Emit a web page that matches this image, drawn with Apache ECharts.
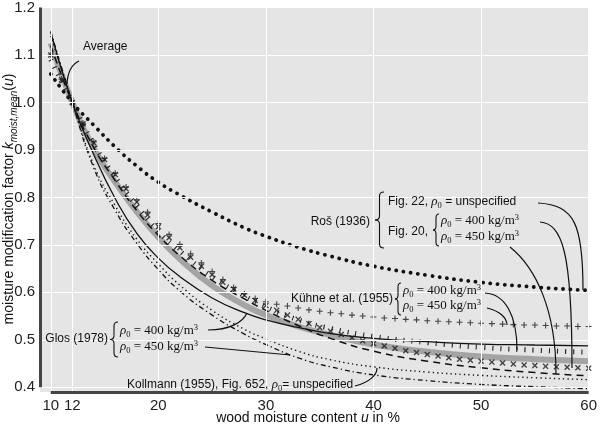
<!DOCTYPE html>
<html><head><meta charset="utf-8">
<script src="https://cdn.jsdelivr.net/npm/echarts@6/dist/echarts.min.js"></script>
<style>html,body{margin:0;padding:0;background:#fff}#c{width:600px;height:428px}</style>
</head><body><div id="c"></div>
<script>
// ---------- data ----------
const X_TICKS = [10, 12, 20, 30, 40, 50, 60];
const Y_TICKS = [0.4, 0.5, 0.6, 0.7, 0.8, 0.9, 1.0, 1.1, 1.2];

const X_SPARSE = [10, 12, 14, 16, 18, 20, 22, 25, 28, 30, 33, 36, 40, 45, 50, 55, 60];
const average   = [1.125, 1.0, 0.903, 0.832, 0.770, 0.716, 0.670, 0.614, 0.573, 0.552, 0.528, 0.510, 0.490, 0.475, 0.465, 0.459, 0.455];
const rosUnspec = [1.06, 1.0, 0.952, 0.906, 0.866, 0.832, 0.805, 0.769, 0.736, 0.718, 0.695, 0.676, 0.655, 0.636, 0.621, 0.611, 0.604];
const ros450    = [1.12, 1.0, 0.905, 0.835, 0.772, 0.720, 0.677, 0.625, 0.586, 0.562, 0.530, 0.503, 0.476, 0.455, 0.441, 0.431, 0.424];
const glos400   = [1.148, 1.0, 0.890, 0.797, 0.724, 0.672, 0.633, 0.588, 0.557, 0.542, 0.526, 0.513, 0.503, 0.496, 0.491, 0.489, 0.487];
const glos450   = [1.15, 1.0, 0.862, 0.772, 0.703, 0.648, 0.603, 0.552, 0.512, 0.490, 0.462, 0.443, 0.426, 0.414, 0.406, 0.401, 0.397];
const kollmann  = [1.14, 1.0, 0.868, 0.782, 0.712, 0.660, 0.615, 0.562, 0.522, 0.502, 0.476, 0.458, 0.443, 0.432, 0.425, 0.420, 0.416];
const kuehne400 = [1.09, 1.0, 0.912, 0.842, 0.782, 0.728, 0.687, 0.633, 0.592, 0.569, 0.542, 0.524, 0.507, 0.494, 0.484, 0.478, 0.474];

const X_DENSE = [10,11,12,13,14,15,16,17,18,19,20,21,22,23,24,25,26,27,28,29,30,31,32,33,34,35,36,37,38,39,40,41,42,43,44,45,46,47,48,49,50,51,52,53,54,55,56,57,58,59,60];
const ros400 = [1.100,1.048,1.000,0.955,0.915,0.880,0.848,0.818,0.790,0.763,0.738,0.715,0.694,0.674,0.655,0.637,0.621,0.607,0.594,0.583,0.572,0.562,0.552,0.543,0.534,0.526,0.518,0.511,0.504,0.498,0.492,0.487,0.482,0.477,0.473,0.469,0.466,0.462,0.459,0.457,0.455,0.453,0.451,0.449,0.447,0.446,0.444,0.443,0.442,0.441,0.440];
const kuehne450 = [1.100,1.049,1.000,0.956,0.917,0.882,0.851,0.822,0.795,0.769,0.745,0.722,0.701,0.681,0.662,0.644,0.627,0.610,0.597,0.587,0.580,0.575,0.571,0.567,0.563,0.560,0.557,0.555,0.552,0.550,0.548,0.546,0.545,0.543,0.542,0.540,0.539,0.538,0.537,0.536,0.535,0.534,0.533,0.532,0.531,0.531,0.530,0.529,0.529,0.528,0.528];

// ---------- helpers ----------
const pairs = (xs, ys) => xs.map((x, i) => [x, ys[i]]);
const SANS = 'Liberation Sans';
const SERIF = 'Liberation Serif';
const INK = '#111';

const rich = {
  t:  { fontFamily: SANS, fontSize: 12, color: INK, lineHeight: 16 },
  ri: { fontFamily: SERIF, fontStyle: 'italic', fontSize: 13, color: INK, lineHeight: 16 },
  sb: { fontFamily: SERIF, fontSize: 8.5, color: INK, lineHeight: 16, verticalAlign: 'bottom' },
  mt: { fontFamily: SERIF, fontSize: 13, color: INK, lineHeight: 16 },
  sp: { fontFamily: SERIF, fontSize: 8.5, color: INK, lineHeight: 16, verticalAlign: 'top' },
  n:  { fontFamily: SANS, fontSize: 14, color: INK, lineHeight: 20 },
  ni: { fontFamily: SANS, fontStyle: 'italic', fontSize: 14, color: INK, lineHeight: 20 },
  nsub: { fontFamily: SANS, fontStyle: 'italic', fontSize: 10, color: INK, lineHeight: 20, verticalAlign: 'bottom' }
};
const rho = v => '{ri|ρ}{sb|0}{mt| = ' + v + ' kg/m}{sp|3}';

function txt(x, y, text, align, rot) {
  return { type: 'text', x: x, y: y, rotation: rot || 0, z: 100, silent: true,
    style: { text: text, rich: rich, align: align || 'left', verticalAlign: 'middle', fill: INK, font: '12px ' + SANS } };
}
const stroke = (w) => ({ fill: null, stroke: INK, lineWidth: w || 1.2 });
function cubic(x1, y1, c1x, c1y, c2x, c2y, x2, y2, w) {
  return { type: 'bezierCurve', z: 100, silent: true,
    shape: { x1: x1, y1: y1, cpx1: c1x, cpy1: c1y, cpx2: c2x, cpy2: c2y, x2: x2, y2: y2 }, style: stroke(w) };
}
function quad(x1, y1, cx, cy, x2, y2, w) {
  return { type: 'bezierCurve', z: 100, silent: true,
    shape: { x1: x1, y1: y1, cpx1: cx, cpy1: cy, x2: x2, y2: y2 }, style: stroke(w) };
}
function seg(x1, y1, x2, y2, w) {
  return { type: 'line', z: 100, silent: true, shape: { x1: x1, y1: y1, x2: x2, y2: y2 }, style: stroke(w) };
}
function brace(x0, x1, y1, y2) {
  const xm = (x0 + x1) / 2, ym = (y1 + y2) / 2, r = Math.min(4, (y2 - y1) / 6), w = 1.1;
  return [
    quad(x1, y1, xm, y1, xm, y1 + r, w),
    seg(xm, y1 + r, xm, ym - r, w),
    quad(xm, ym - r, xm, ym, x0, ym, w),
    quad(x0, ym, xm, ym, xm, ym + r, w),
    seg(xm, ym + r, xm, y2 - r, w),
    quad(xm, y2 - r, xm, y2, x1, y2, w)
  ];
}

const XPATH = 'path://M0,1.6L1.6,0L5,3.4L8.4,0L10,1.6L6.6,5L10,8.4L8.4,10L5,6.6L1.6,10L0,8.4L3.4,5Z';
const PPATH = 'path://M4.1,0H5.9V4.1H10V5.9H5.9V10H4.1V5.9H0V4.1H4.1Z';

const lineBase = { type: 'line', smooth: 0.5, symbol: 'none', silent: true, animation: false };

const chart = echarts.init(document.getElementById('c'), null, { renderer: 'canvas' });
chart.setOption({
  animation: false,
  grid: { left: 40, right: 7, top: 7, bottom: 36, show: true, backgroundColor: '#e5e5e5', borderWidth: 0 },
  xAxis: {
    type: 'value', min: 9, max: 60,
    axisLine: { show: false }, axisTick: { show: false }, splitLine: { show: false },
    axisLabel: { customValues: X_TICKS, fontFamily: SANS, fontSize: 15, color: '#222', margin: 6 }
  },
  yAxis: {
    type: 'value', min: 0.39, max: 1.2,
    axisLine: { show: false }, axisTick: { show: false }, splitLine: { show: false },
    axisLabel: { customValues: Y_TICKS, formatter: v => v.toFixed(1), fontFamily: SANS, fontSize: 15, color: '#222', margin: 5 }
  },
  series: [
    { type: 'line', data: [[9, 0.39]], symbol: 'none', z: 1, silent: true, clip: false,
      lineStyle: { opacity: 0 },
      markLine: { silent: true, symbol: 'none', animation: false, label: { show: false },
        lineStyle: { color: '#ffffff', width: 1, type: 'solid' },
        data: X_TICKS.map(v => ({ xAxis: v })).concat(Y_TICKS.map(v => ({ yAxis: v }))) } },
    Object.assign({}, lineBase, { name: 'Average', z: 2, data: pairs(X_SPARSE, average),
      lineStyle: { color: '#a4a4a4', width: 6 } }),
    Object.assign({}, lineBase, { name: 'Roš Fig.22', z: 3, data: pairs(X_SPARSE, rosUnspec),
      lineStyle: { color: INK, width: 3.8, type: [0.1, 7.2], cap: 'round' } }),
    Object.assign({}, lineBase, { name: 'Roš Fig.20 450', z: 3, data: pairs(X_SPARSE, ros450),
      lineStyle: { color: INK, width: 1.5, type: [7, 5] } }),
    Object.assign({}, lineBase, { name: 'Glos 400', z: 3, data: pairs(X_SPARSE, glos400),
      lineStyle: { color: INK, width: 1.3 } }),
    Object.assign({}, lineBase, { name: 'Glos 450', z: 3, data: pairs(X_SPARSE, glos450),
      lineStyle: { color: INK, width: 1.3, type: [5, 3, 1.3, 3] } }),
    Object.assign({}, lineBase, { name: 'Kollmann', z: 3, data: pairs(X_SPARSE, kollmann),
      lineStyle: { color: INK, width: 1.4, type: [1.3, 3.2] } }),
    Object.assign({}, lineBase, { name: 'Kühne 400', z: 3, data: pairs(X_SPARSE, kuehne400),
      lineStyle: { color: '#222', width: 5, type: [1.1, 7], cap: 'butt' } }),
    { type: 'scatter', name: 'Roš Fig.20 400', z: 4, silent: true, data: pairs(X_DENSE, ros400),
      symbol: XPATH, symbolSize: 6, itemStyle: { color: '#1a1a1a' } },
    { type: 'scatter', name: 'Kühne 450', z: 4, silent: true, data: pairs(X_DENSE, kuehne450),
      symbol: PPATH, symbolSize: 6, itemStyle: { color: '#1a1a1a' } },
    { type: 'line', data: [[9, 0.39]], symbol: 'none', z: 10, silent: true, clip: false,
      lineStyle: { opacity: 0 },
      markLine: { silent: true, symbol: 'none', animation: false, label: { show: false },
        lineStyle: { color: '#444', width: 3, type: 'solid' },
        data: [[{ coord: [9, 0.4] }, { coord: [9, 1.2] }], [{ coord: [10, 0.39] }, { coord: [60, 0.39] }]] } }
  ],
  graphic: [].concat(
    // axis names
    txt(9, 199, '{n|moisture modification factor }{ni|k}{nsub|moist,mean}{n|(}{ni|u}{n|)}', 'center', Math.PI / 2),
    txt(308, 418, '{n|wood moisture content }{ni|u}{n| in %}', 'center'),
    // Average
    txt(83, 47, '{t|Average}'),
    quad(79, 61, 68, 66, 67, 84),
    // Roš
    txt(370, 222, '{t|Roš (1936)}', 'right'),
    brace(375, 384, 192, 248),
    txt(388, 202, '{t|Fig. 22, }{ri|ρ}{sb|0}{t| = unspecified}'),
    txt(388, 232, '{t|Fig. 20,}'),
    brace(433, 439, 214, 246),
    txt(441, 221, rho(400)),
    txt(441, 237, rho(450)),
    cubic(538, 203, 575, 205, 583, 225, 583, 290),
    cubic(540, 222, 562, 224, 572, 250, 572, 368),
    cubic(510, 247, 536, 268, 556, 310, 556, 374),
    // Kühne
    txt(393, 299, '{t|Kühne et al. (1955)}', 'right'),
    brace(395, 401, 283, 315),
    txt(403, 291, rho(400)),
    txt(403, 306, rho(450)),
    cubic(485, 293, 505, 294, 517, 315, 517, 350),
    cubic(487, 308, 500, 311, 507, 318, 507, 325),
    // Glos
    txt(108, 339, '{t|Glos (1978)}', 'right'),
    brace(110, 118, 322, 357),
    txt(120, 331, rho(400)),
    txt(120, 347, rho(450)),
    cubic(208, 330, 230, 330, 243, 322, 247, 313),
    seg(205, 347, 290, 355),
    // Kollmann
    txt(127, 385, '{t|Kollmann (1955), Fig. 652, }{ri|ρ}{sb|0}{t|= unspecified}'),
    cubic(355, 386, 370, 382, 377, 375, 377, 368)
  )
});
</script>
</body></html>
